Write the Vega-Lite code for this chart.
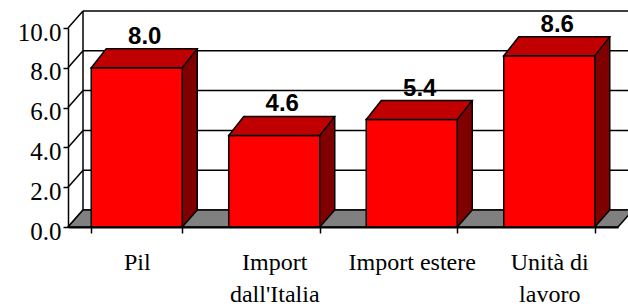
{
  "$schema": "https://vega.github.io/schema/vega-lite/v6.json",
  "width": 550,
  "height": 199,
  "autosize": {"type": "none"},
  "padding": {"left": 68, "top": 28, "right": 10, "bottom": 80},
  "background": "white",
  "config": {"view": {"stroke": null}},
  "datasets": {
    "bars": [
      {"cat": "Pil", "v": 8.0},
      {"cat": "Import dall'Italia", "v": 4.6},
      {"cat": "Import estere", "v": 5.4},
      {"cat": "Unità di lavoro", "v": 8.6}
    ],
    "grid": [{"v": 0}, {"v": 2}, {"v": 4}, {"v": 6}, {"v": 8}, {"v": 10}],
    "one": [{"k": 1}]
  },
  "encoding": {
    "x": {
      "field": "cat", "type": "nominal", "sort": null,
      "scale": {"paddingInner": 0.338, "paddingOuter": 0.169},
      "axis": {
        "title": null, "labelAngle": 0, "tickBand": "extent",
        "labelFont": "Liberation Serif", "labelFontSize": 24, "labelColor": "black",
        "labelLineHeight": 32, "labelBaseline": "top", "labelPadding": 17, "labelAlign": "center",
        "labelExpr": "datum.label == 'Unità di lavoro' ? ['Unità di', 'lavoro'] : datum.label == \"Import dall'Italia\" ? ['Import', \"dall'Italia\"] : datum.label",
        "tickSize": 6, "tickColor": "black", "tickWidth": 1.5,
        "domainColor": "black", "domainWidth": 2, "zindex": 1
      }
    },
    "y": {
      "field": "v", "type": "quantitative",
      "scale": {"domain": [0, 10], "nice": false},
      "axis": {
        "values": [0, 2, 4, 6, 8, 10], "format": ".1f", "title": null, "grid": false,
        "labelFont": "Liberation Serif", "labelFontSize": 25, "labelColor": "black",
        "labelPadding": 2, "labelOffset": 4, "labelOverlap": false, "labelAlign": "right", "labelBaseline": "middle",
        "tickColor": "black", "tickWidth": 1.5, "tickSize": 5,
        "domainColor": "black", "domainWidth": 1.5, "zindex": 1
      }
    }
  },
  "layer": [
    {
      "data": {"name": "grid"},
      "mark": {"type": "rule", "xOffset": 15, "x2Offset": 15, "yOffset": -17, "y2Offset": -17, "color": "black", "strokeWidth": 1.5},
      "encoding": {
        "x": {"value": 0},
        "x2": {"value": "width"},
        "y2": {"field": "v"}
      }
    },
    {
      "data": {"name": "grid"},
      "mark": {"type": "rule", "x2Offset": 15, "y2Offset": -17, "color": "black", "strokeWidth": 1.5},
      "encoding": {
        "x": {"value": 0},
        "x2": {"value": 0},
        "y2": {"field": "v"}
      }
    },
    {
      "data": {"name": "one"},
      "mark": {"type": "rule", "xOffset": 15, "yOffset": -17, "y2Offset": -17, "color": "black", "strokeWidth": 1.5},
      "encoding": {
        "x": {"value": 0},
        "y": {"value": "height"},
        "y2": {"value": 0}
      }
    },
    {
      "data": {"name": "one"},
      "mark": {"type": "point", "shape": "M0,0 L550,0 L565,-17 L15,-17 Z", "size": 4, "filled": true, "fill": "#808080", "stroke": "black", "strokeWidth": 1.5, "opacity": 1},
      "encoding": {
        "x": {"value": 0},
        "y": {"value": "height"}
      }
    },
    {
      "data": {"name": "bars"},
      "mark": {"type": "rule", "xOffset": 53, "yOffset": -19, "y2Offset": -17, "color": "#800000", "strokeWidth": 15},
      "encoding": {
        "y2": {"value": "height"}
      }
    },
    {
      "data": {"name": "bars"},
      "mark": {"type": "point", "shape": "M45.5,-18 L45.5,0 L60.5,-17 L60.5,-18 Z", "size": 4, "filled": true, "fill": "#800000", "strokeWidth": 0, "opacity": 1},
      "encoding": {
        "y": {"value": "height"}
      }
    },
    {
      "data": {"name": "bars"},
      "mark": {"type": "bar", "fill": "#FF0000", "stroke": "black", "strokeWidth": 1.5}
    },
    {
      "data": {"name": "bars"},
      "mark": {"type": "point", "shape": "M-45.5,0 L45.5,0 L60.5,-19 L-30.5,-19 Z", "size": 4, "filled": true, "fill": "#C00000", "stroke": "black", "strokeWidth": 1.5, "opacity": 1}
    },
    {
      "data": {"name": "bars"},
      "mark": {"type": "rule", "xOffset": 60.5, "yOffset": -19, "y2Offset": -17, "color": "black", "strokeWidth": 1.5},
      "encoding": {
        "y2": {"value": "height"}
      }
    },
    {
      "data": {"name": "bars"},
      "mark": {"type": "point", "shape": "M45.5,0 L60.5,-17", "size": 4, "filled": false, "stroke": "black", "strokeWidth": 1.5, "opacity": 1},
      "encoding": {
        "y": {"value": "height"}
      }
    },
    {
      "data": {"name": "bars"},
      "mark": {"type": "text", "dx": 8, "dy": -24, "baseline": "alphabetic", "font": "Liberation Sans", "fontWeight": "bold", "fontSize": 24, "color": "black"},
      "encoding": {
        "text": {"field": "v", "type": "quantitative", "format": ".1f"}
      }
    }
  ]
}
